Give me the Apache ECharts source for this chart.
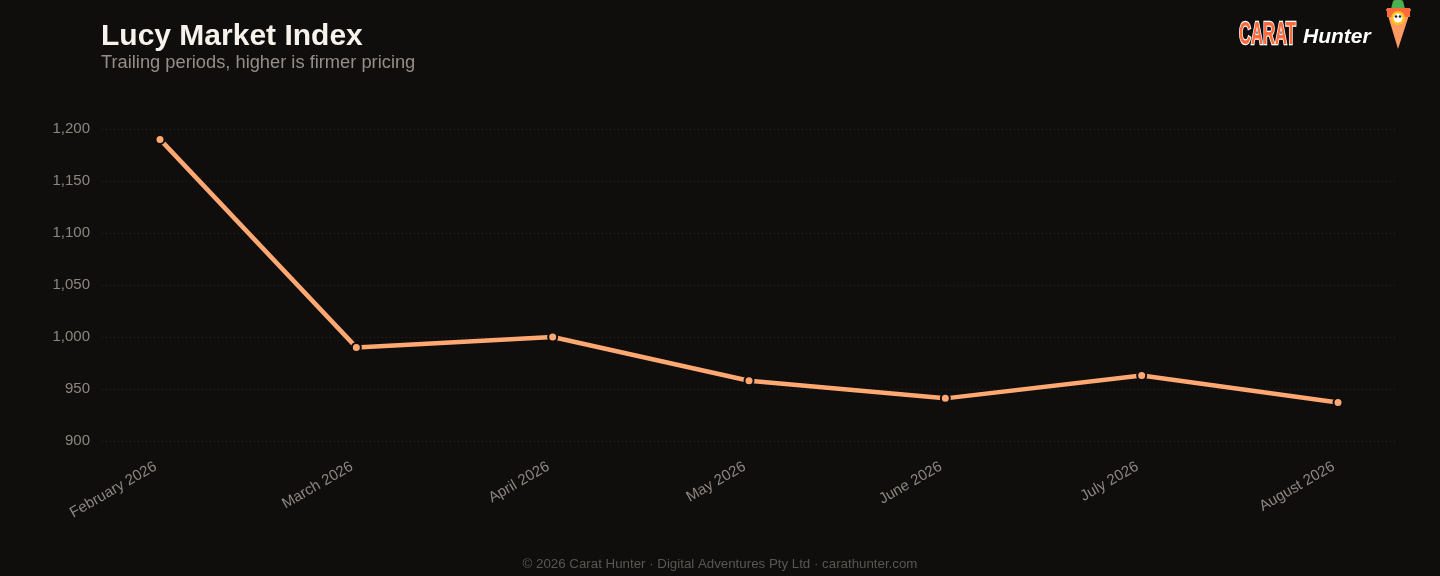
<!DOCTYPE html>
<html>
<head>
<meta charset="utf-8">
<script src="https://cdn.jsdelivr.net/npm/echarts@6/dist/echarts.min.js"></script>
<style>
html,body{margin:0;padding:0;background:#0f0e0d;}
#chart{width:1440px;height:576px;}
</style>
</head>
<body>
<div id="chart"></div>
<script>
const categories = ['February 2026','March 2026','April 2026','May 2026','June 2026','July 2026','August 2026'];
const indexValues = [1190, 990, 1000, 958, 941, 963, 937];
const yTicks = [900, 950, 1000, 1050, 1100, 1150, 1200];

const chart = echarts.init(document.getElementById('chart'));
const font = '"Liberation Sans", Arial, sans-serif';
chart.setOption({
  backgroundColor: '#0f0e0d',
  animation: false,
  title: {
    text: 'Lucy Market Index',
    subtext: 'Trailing periods, higher is firmer pricing',
    left: 96, top: 17,
    itemGap: 2,
    textStyle: {color: '#f7f2ec', fontSize: 30, fontWeight: 'bold', fontFamily: font},
    subtextStyle: {color: '#948e87', fontSize: 18.3, fontFamily: font}
  },
  grid: [
    {left: 102, right: 43, top: 129, bottom: 135},
    {left: 160, right: 102, top: 129, bottom: 135}
  ],
  xAxis: [
    {gridIndex: 0, type: 'value', show: false, min: 0, max: 1},
    {gridIndex: 1, type: 'category', data: categories, boundaryGap: false,
     axisLine: {show: false}, axisTick: {show: false},
     axisLabel: {rotate: 30, margin: 22, padding: [0, 5, 0, 0], color: '#8c8680', fontSize: 15, fontFamily: font, interval: 0}}
  ],
  yAxis: [
    {gridIndex: 0, type: 'value', min: yTicks[0], max: yTicks[yTicks.length-1], interval: 50,
     axisLine: {show: false}, axisTick: {show: false},
     axisLabel: {color: '#8c8680', fontSize: 15, fontFamily: font, margin: 12, padding: [3, 0, 0, 0],
       formatter: v => v.toLocaleString('en-US')},
     splitLine: {show: true, lineStyle: {color: '#2a2724', type: [1, 3], width: 1}}},
    {gridIndex: 1, type: 'value', min: yTicks[0], max: yTicks[yTicks.length-1], interval: 50, show: false,
     splitLine: {show: false}}
  ],
  series: [{
    type: 'line',
    xAxisIndex: 1, yAxisIndex: 1,
    data: indexValues,
    symbol: 'circle', symbolSize: 9,
    lineStyle: {color: '#ffa872', width: 4.5},
    itemStyle: {color: '#ffa872', borderColor: '#0f0e0d', borderWidth: 2}
  }],
  graphic: [
    {type: 'text', left: 'center', top: 558,
     style: {text: '© 2026 Carat Hunter · Digital Adventures Pty Ltd · carathunter.com',
       fill: '#5a5652', fontSize: 13.3, fontFamily: font}},
    {type: 'text', x: 1239, y: 19, scaleX: 0.52,
     style: {text: 'CARAT', fill: '#ff6a3d', stroke: '#ffffff', lineWidth: 2.5,
       fontSize: 32, fontWeight: 'bold', fontFamily: font}},
    {type: 'text', x: 1303, y: 27,
     style: {text: 'Hunter', fill: '#ffffff', fontSize: 21, fontWeight: 'bold', fontStyle: 'italic', fontFamily: font}},
    {type: 'polygon', shape: {points: [[1386,9],[1411,9],[1398,49]]}, style: {fill: '#ff9a63'}},
    {type: 'polygon', shape: {points: [[1391,9],[1393,1],[1398,-2],[1403,1],[1405,9]]}, style: {fill: '#4caf50'}},
    {type: 'rect', shape: {x: 1387, y: 8, width: 23, height: 9}, style: {fill: '#ff6a3d'}},
    {type: 'circle', shape: {cx: 1398, cy: 18, r: 7}, style: {fill: '#ffc21a'}},
    {type: 'circle', shape: {cx: 1398, cy: 18, r: 4.5}, style: {fill: '#ffffff'}},
    {type: 'circle', shape: {cx: 1396, cy: 16.5, r: 1.3}, style: {fill: '#222'}},
    {type: 'circle', shape: {cx: 1400, cy: 16.5, r: 1.3}, style: {fill: '#222'}}
  ]
});
</script>
</body>
</html>
